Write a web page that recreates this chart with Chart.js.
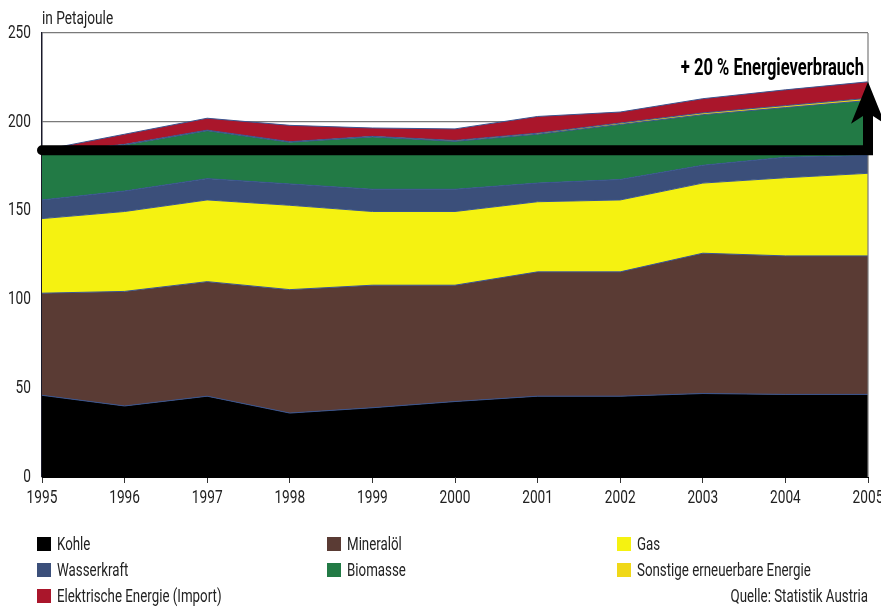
<!DOCTYPE html>
<html><head><meta charset="utf-8">
<script src="https://cdn.jsdelivr.net/npm/chart.js@4.4.0/dist/chart.umd.min.js"></script>
<style>html,body{margin:0;padding:0;background:#fff;}canvas{display:block;}</style>
</head><body>
<canvas id="c" width="881" height="607"></canvas>
<script>
const years = ['1995','1996','1997','1998','1999','2000','2001','2002','2003','2004','2005'];
const kohle       = [46, 40, 45.5, 36, 39, 42.5, 45.5, 45.5, 47, 46.5, 46.5];
const mineraloel  = [57.5, 64.5, 64.5, 69.5, 69, 65.5, 70, 70, 79, 78, 78];
const gas         = [42, 45, 46, 47.5, 41.5, 41.5, 39.5, 40.5, 39.5, 44, 46.5];
const wasserkraft = [10.5, 11.5, 12, 12, 12.5, 12.5, 10.5, 11.5, 10, 11.5, 10];
const biomasse    = [26, 26, 27, 23.5, 29.5, 27, 27.5, 31, 28.5, 28, 31];
const sonstige    = [0.3, 0.3, 0.3, 0.3, 0.3, 0.5, 0.6, 0.8, 1, 1.1, 1.2];
const elektrisch  = [1.7, 5.7, 6.7, 9.2, 4.7, 6.5, 9.4, 6.2, 8, 8.9, 9.3];
const yTicks = [0, 50, 100, 150, 200, 250];

const FONT = 'Roboto, "DejaVu Sans", sans-serif';
const SX = 0.72;          // horizontal condensing of all text (reference uses a condensed face)
const EDGE = '#3a5590';

const series = [
  {label:'Kohle', data:kohle, color:'#000000'},
  {label:'Mineralöl', data:mineraloel, color:'#5a3b34'},
  {label:'Gas', data:gas, color:'#f5f211'},
  {label:'Wasserkraft', data:wasserkraft, color:'#3b4f7a'},
  {label:'Biomasse', data:biomasse, color:'#227a45'},
  {label:'Sonstige erneuerbare Energie', data:sonstige, color:'#f0d818'},
  {label:'Elektrische Energie (Import)', data:elektrisch, color:'#aa162b'}
];

const datasets = series.map((s,i)=>({
  label:s.label, data:s.data, backgroundColor:s.color,
  borderColor:EDGE, borderWidth:1, pointRadius:0, tension:0,
  fill: i===0 ? 'origin' : '-1'
}));

const totals = years.map((_,i)=>series.reduce((a,s)=>a+s.data[i],0));

const condense = {
  id:'condense',
  beforeInit(chart){
    const ctx = chart.ctx;
    const orig = ctx.fillText.bind(ctx);
    ctx.fillText = function(t, x, y, mw){
      ctx.save(); ctx.translate(x, y); ctx.scale(SX, 1);
      if (mw !== undefined) orig(t, 0, 0, mw / SX); else orig(t, 0, 0);
      ctx.restore();
    };
  }
};

const overlay = {
  id:'overlay',
  afterDraw(chart){
    const ctx = chart.ctx, ca = chart.chartArea;
    const ys = chart.scales.y;
    ctx.save();
    // right border
    ctx.strokeStyle = '#7a7a7a'; ctx.lineWidth = 1.2;
    ctx.beginPath(); ctx.moveTo(ca.right, ys.getPixelForValue(250)); ctx.lineTo(ca.right, ca.bottom); ctx.stroke();
    // unit label
    ctx.fillStyle = '#222'; ctx.font = '19px ' + FONT;
    ctx.textAlign = 'left'; ctx.textBaseline = 'alphabetic';
    ctx.fillText('in Petajoule', ca.left, 24);
    // arrow
    const y0 = ys.getPixelForValue(totals[0]);
    const yTip = ys.getPixelForValue(totals[totals.length-1]);
    const xr = ca.right;
    ctx.strokeStyle = '#000'; ctx.lineWidth = 10;
    ctx.lineCap = 'round'; ctx.lineJoin = 'miter';
    ctx.beginPath(); ctx.moveTo(ca.left, y0); ctx.lineTo(xr, y0); ctx.lineTo(xr, yTip + 32); ctx.stroke();
    ctx.lineCap = 'butt';
    ctx.beginPath(); ctx.moveTo(xr, y0); ctx.lineTo(xr, yTip + 30); ctx.stroke();
    ctx.fillStyle = '#000';
    ctx.beginPath();
    ctx.moveTo(xr, yTip);
    ctx.lineTo(xr + 17, yTip + 42);
    ctx.lineTo(xr, yTip + 31);
    ctx.lineTo(xr - 17, yTip + 42);
    ctx.closePath(); ctx.fill();
    // annotation text
    ctx.font = 'bold 23px ' + FONT;
    ctx.textAlign = 'right'; ctx.textBaseline = 'middle';
    ctx.fillText('+ 20 % Energieverbrauch', 864, 69);
    // legend
    ctx.font = '18.5px ' + FONT; ctx.textAlign = 'left'; ctx.textBaseline = 'middle';
    const cols = [37, 327, 617], rows = [544, 570, 596];
    series.forEach((s,i)=>{
      const x = cols[i%3], y = rows[Math.floor(i/3)];
      ctx.fillStyle = s.color; ctx.fillRect(x, y-7, 14, 14);
      ctx.fillStyle = '#222'; ctx.fillText(s.label, x + 20, y + 1);
    });
    ctx.textAlign = 'right';
    ctx.fillText('Quelle: Statistik Austria', 868, 597);
    ctx.restore();
  }
};

new Chart(document.getElementById('c'), {
  type:'line',
  data:{labels:years, datasets},
  options:{
    responsive:false, animation:false, devicePixelRatio:1,
    layout:{padding:{left:0, right:13, top:33, bottom:0}},
    plugins:{legend:{display:false}, tooltip:{enabled:false}},
    scales:{
      x:{
        offset:false,
        grid:{drawOnChartArea:false, drawTicks:true, tickLength:6, color:'#333', lineWidth:1},
        border:{display:true, color:'#000', width:1},
        ticks:{font:{family:FONT, size:19}, color:'#222', padding:4, maxRotation:0, autoSkip:false},
        afterFit(s){ s.height = 130; s.paddingLeft = 0; s.paddingRight = 0; }
      },
      y:{
        stacked:true, min:0, max:250,
        afterBuildTicks(s){ s.ticks = yTicks.map(v=>({value:v})); },
        grid:{drawTicks:false, color:'#7a7a7a', lineWidth:1.2},
        border:{display:true, color:'#1a1a2a', width:1.5},
        ticks:{font:{family:FONT, size:19}, color:'#222', padding:11},
        afterFit(s){ s.width = 42; }
      }
    }
  },
  plugins:[condense, overlay]
});
</script>
</body></html>
